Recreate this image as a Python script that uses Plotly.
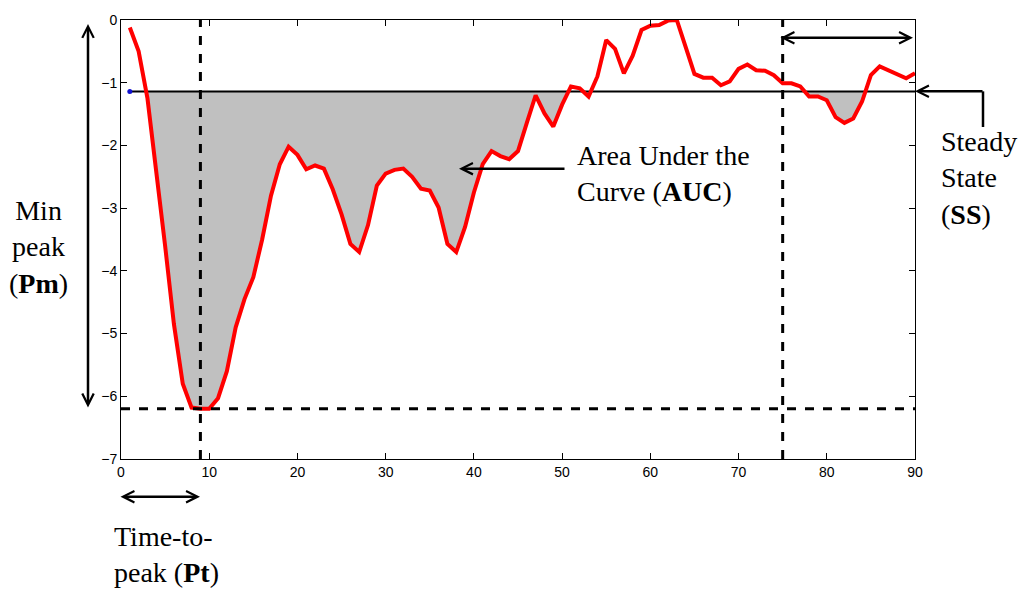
import numpy as np
import plotly.graph_objects as go

# Response curve sampled at unit time steps
time = list(range(1, 91))
response = [
    -0.12, -0.50, -1.25, -2.40, -3.60, -4.85, -5.80, -6.18, -6.20, -6.20,
    -6.03, -5.60, -4.90, -4.45, -4.10, -3.50, -2.80, -2.30, -2.02, -2.15,
    -2.38, -2.32, -2.37, -2.70, -3.10, -3.57, -3.70, -3.27, -2.64, -2.45,
    -2.39, -2.37, -2.50, -2.69, -2.72, -2.99, -3.57, -3.70, -3.30, -2.75,
    -2.30, -2.09, -2.17, -2.22, -2.09, -1.64, -1.20, -1.49, -1.70, -1.35,
    -1.06, -1.09, -1.22, -0.90, -0.32, -0.46, -0.85, -0.57, -0.16, -0.09,
    -0.08, -0.01, 0.00, -0.43, -0.86, -0.92, -0.92, -1.04, -0.98, -0.78,
    -0.71, -0.80, -0.81, -0.88, -1.01, -1.01, -1.06, -1.22, -1.22, -1.28,
    -1.55, -1.64, -1.57, -1.30, -0.88, -0.74, -0.80, -0.87, -0.93, -0.85,
]
baseline = -1.14          # steady-state level
peak_time = 9             # time-to-peak marker
steady_start = 75         # start of steady-state window

x_ticks = [0, 10, 20, 30, 40, 50, 60, 70, 80, 90]
y_ticks = [0, -1, -2, -3, -4, -5, -6, -7]

# Plot-area geometry (pixels) used to place the annotation furniture
W, H = 1028, 590
L, R, T, B = 121, 113, 16, 131
PW, PH = W - L - R, H - T - B


def P(px, py):
    """Pixel position -> paper coordinates."""
    return (px - L) / PW, (H - B - py) / PH


# Insert baseline crossings so the shaded region follows the curve exactly
xs, ys = [], []
t = np.array(time, float)
v = np.array(response, float)
for i in range(len(t)):
    xs.append(t[i]); ys.append(v[i])
    if i + 1 < len(t):
        a, b = v[i] - baseline, v[i + 1] - baseline
        if a * b < 0:
            f = a / (a - b)
            xs.append(t[i] + f * (t[i + 1] - t[i])); ys.append(baseline)
xs = np.array(xs); ys = np.array(ys)
clipped = np.minimum(ys, baseline)

fig = go.Figure()

# Area under the curve (below steady-state baseline)
fig.add_trace(go.Scatter(
    x=np.concatenate([xs, xs[::-1]]),
    y=np.concatenate([clipped, np.full(len(xs), baseline)]),
    fill="toself", fillcolor="#c0c0c0", line=dict(width=0),
    mode="lines", hoverinfo="skip", showlegend=False))

# Baseline
fig.add_trace(go.Scatter(
    x=[time[0], time[-1]], y=[baseline, baseline], mode="lines",
    line=dict(color="black", width=2.2), showlegend=False))
fig.add_trace(go.Scatter(
    x=[time[0]], y=[baseline], mode="markers",
    marker=dict(color="#1010d0", size=5), showlegend=False))

# Response curve
fig.add_trace(go.Scatter(
    x=time, y=response, mode="lines",
    line=dict(color="#ff0000", width=4), showlegend=False))

min_val = min(response)
dash = dict(color="black", width=3, dash="dash")
fig.add_shape(type="line", xref="x", yref="y", x0=0, x1=90, y0=min_val, y1=min_val, line=dash)
fig.add_shape(type="line", xref="x", yref="y", x0=peak_time, x1=peak_time, y0=-7, y1=0, line=dash)
fig.add_shape(type="line", xref="x", yref="y", x0=steady_start, x1=steady_start, y0=-7, y1=0, line=dash)

serif = dict(family="Liberation Serif, Times New Roman, serif", size=28, color="black")


def arrow(head, tail, both=False):
    hx, hy = P(*head)
    fig.add_annotation(
        x=hx, y=hy, xref="paper", yref="paper", text="",
        ax=tail[0] - head[0], ay=tail[1] - head[1], axref="pixel", ayref="pixel",
        showarrow=True, arrowhead=5, startarrowhead=5, arrowsize=0.9, startarrowsize=0.9,
        arrowwidth=2.5, arrowcolor="black",
        arrowside="end+start" if both else "end", standoff=0, startstandoff=0)


def label(text, px, py, xanchor="left", align="left"):
    x, y = P(px, py)
    fig.add_annotation(x=x, y=y, xref="paper", yref="paper", text=text,
                       showarrow=False, font=serif, xanchor=xanchor,
                       yanchor="middle", align=align)


# Min peak
arrow((88, 20), (88, 405), both=True)
label("Min<br>peak<br>(<b>Pm</b>)", 38, 245, xanchor="center", align="center")

# Time-to-peak
arrow((200, 497), (119, 497), both=True)
label("Time-to-<br>peak (<b>Pt</b>)", 112, 555)

# Area under the curve
arrow((459, 166), (566, 166))
label("Area Under the<br>Curve (<b>AUC</b>)", 575, 171)

# Steady state
arrow((913, 34), (779, 34), both=True)
fig.add_shape(type="line", xref="paper", yref="paper",
              x0=P(983, 124)[0], y0=P(983, 124)[1], x1=P(983, 88)[0], y1=P(983, 88)[1],
              line=dict(color="black", width=2.5))
arrow((915, 88), (984, 88))
label("Steady<br>State<br>(<b>SS</b>)", 939, 175)

axis_font = dict(family="Liberation Sans, Arial, sans-serif", size=14, color="black")
fig.update_xaxes(range=[0, 90], tickvals=x_ticks, ticks="inside", ticklen=6,
                 showline=True, linecolor="black", linewidth=1, mirror="ticks",
                 showgrid=False, zeroline=False, tickfont=axis_font, tickcolor="black")
fig.update_yaxes(range=[-7, 0], tickvals=y_ticks, ticks="inside", ticklen=6,
                 showline=True, linecolor="black", linewidth=1, mirror="ticks",
                 showgrid=False, zeroline=False, tickfont=axis_font, tickcolor="black")

fig.update_layout(width=W, height=H, margin=dict(l=L, r=R, t=T, b=B),
                  plot_bgcolor="white", paper_bgcolor="white", showlegend=False)

fig.write_html("out.html")
